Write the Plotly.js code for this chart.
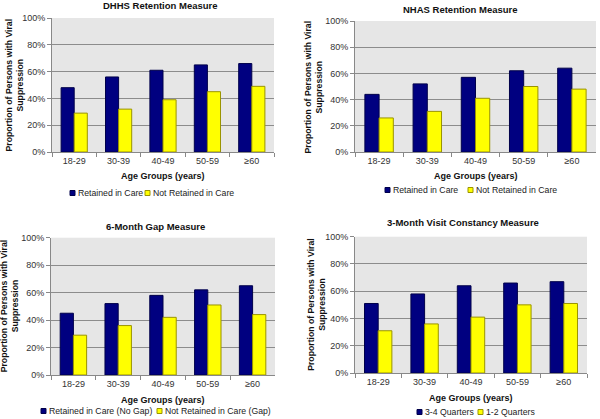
<!DOCTYPE html>
<html>
<head>
<meta charset="utf-8">
<script src="https://cdn.plot.ly/plotly-3.0.1.min.js"></script>
<style>html,body{margin:0;padding:0;background:#fff;}#chart{width:600px;height:419px;}</style>
</head>
<body>
<div id="chart"></div>
<script>
// ---- data ----
const ageGroups = ["18-29", "30-39", "40-49", "50-59", "≥60"];
const yTickVals = [0, 20, 40, 60, 80, 100];
const yTickText = ["0%", "20%", "40%", "60%", "80%", "100%"];

const panelTitles = ["DHHS Retention Measure", "NHAS Retention Measure", "6-Month Gap Measure", "3-Month Visit Constancy Measure"];
const seriesNames = [
  ["Retained in Care", "Not Retained in Care"],
  ["Retained in Care", "Not Retained in Care"],
  ["Retained in Care (No Gap)", "Not Retained in Care (Gap)"],
  ["3-4 Quarters", "1-2 Quarters"]
];
const dhhsRetained    = [48, 56, 61, 65, 66];
const dhhsNotRetained = [29, 32, 39, 45, 49];
const nhasRetained    = [44, 52, 57, 62, 64];
const nhasNotRetained = [26, 31, 41, 50, 48];
const gapNoGap        = [45, 52, 58, 62, 65];
const gapGap          = [29, 36, 42, 51, 44];
const visit34         = [51, 58, 64, 66, 67];
const visit12         = [31, 36, 41, 50, 51];
const panelValues = [
  [dhhsRetained, dhhsNotRetained],
  [nhasRetained, nhasNotRetained],
  [gapNoGap, gapGap],
  [visit34, visit12]
];
const xTitle = "Age Groups (years)";
const yTitle = "Proportion of Persons with Viral<br>Suppression";

// ---- layout geometry (pixels) ----
const W = 600, H = 419;
const panels = [
  {x0: 52,  x1: 274, yTop: 18,    yBot: 152, titleX: 160, titleY: 6,   xtY: 176, legY: 193, yLabX: 13.5, legX: [70, 145]},
  {x0: 355, x1: 596, yTop: 21,    yBot: 152, titleX: 460, titleY: 9,   xtY: 176, legY: 190, yLabX: 313,  legX: [385, 468]},
  {x0: 51,  x1: 275, yTop: 237.7, yBot: 375, titleX: 155, titleY: 226, xtY: 400, legY: 411, yLabX: 9,    legX: [41, 157]},
  {x0: 355, x1: 587, yTop: 236.7, yBot: 373, titleX: 463, titleY: 223, xtY: 398, legY: 412, yLabX: 317,  legX: [417, 478]}
];
const px = x => x / W;
const py = y => 1 - y / H;

const colors = ["#000080", "#FFFF00"];
const lines = ["#00004a", "#9a9400"];
const FONT = "Liberation Sans, Arial, sans-serif";

const traces = [];
const layout = {
  width: W, height: H,
  margin: {l: 0, r: 0, t: 0, b: 0},
  paper_bgcolor: "#ffffff",
  plot_bgcolor: "#e6e6e6",
  showlegend: false,
  barmode: "group",
  bargap: 0.41,
  bargroupgap: 0,
  font: {family: FONT, size: 9, color: "#333"},
  annotations: [],
  shapes: []
};

panels.forEach((p, i) => {
  const n = i === 0 ? "" : String(i + 1);
  for (let s = 0; s < 2; s++) {
    traces.push({
      type: "bar",
      x: ageGroups,
      y: panelValues[i][s],
      name: seriesNames[i][s],
      xaxis: "x" + n, yaxis: "y" + n,
      marker: {color: colors[s], line: {color: lines[s], width: 1}},
      hoverinfo: "x+y+name"
    });
    // compact Excel-style legend entry
    const lx = p.legX[s];
    layout.shapes.push({
      type: "rect", xref: "paper", yref: "paper",
      x0: px(lx), x1: px(lx + 5), y0: py(p.legY + 2.5), y1: py(p.legY - 2.5),
      fillcolor: colors[s], line: {color: lines[s], width: 1}
    });
    layout.annotations.push({
      text: seriesNames[i][s],
      x: px(lx + 5.5), y: py(p.legY), xref: "paper", yref: "paper",
      xanchor: "left", yanchor: "middle", showarrow: false,
      font: {family: FONT, size: 8.7, color: "#222"}
    });
  }
  layout["xaxis" + n] = {
    domain: [px(p.x0), px(p.x1)],
    anchor: "y" + n,
    type: "category",
    tickson: "boundaries",
    ticks: "outside", ticklen: 4, tickcolor: "#888",
    showline: true, linecolor: "#888", linewidth: 1,
    showgrid: false,
    tickfont: {family: FONT, size: 9, color: "#333"},
    fixedrange: true
  };
  layout["yaxis" + n] = {
    domain: [py(p.yBot), py(p.yTop)],
    anchor: "x" + n,
    range: [0, 100],
    tickvals: yTickVals, ticktext: yTickText,
    ticks: "outside", ticklen: 4, tickcolor: "#888",
    showline: true, linecolor: "#888", linewidth: 1,
    showgrid: true, gridcolor: "#8c8c8c", gridwidth: 1,
    zeroline: false,
    tickfont: {family: FONT, size: 9, color: "#333"},
    fixedrange: true
  };
  layout.annotations.push({
    text: "<b>" + panelTitles[i] + "</b>",
    x: px(p.titleX), y: py(p.titleY), xref: "paper", yref: "paper",
    xanchor: "center", yanchor: "middle", showarrow: false,
    font: {family: FONT, size: 9.5, color: "#111"}
  });
  layout.annotations.push({
    text: "<b>" + xTitle + "</b>",
    x: px((p.x0 + p.x1) / 2), y: py(p.xtY), xref: "paper", yref: "paper",
    xanchor: "center", yanchor: "middle", showarrow: false,
    font: {family: FONT, size: 9, color: "#111"}
  });
  layout.annotations.push({
    text: "<b>" + yTitle + "</b>",
    x: px(p.yLabX), y: py((p.yTop + p.yBot) / 2), xref: "paper", yref: "paper",
    xanchor: "center", yanchor: "middle", showarrow: false, textangle: -90,
    font: {family: FONT, size: 8.7, color: "#111"}
  });
});

Plotly.newPlot("chart", traces, layout, {displayModeBar: false, staticPlot: true});
</script>
</body>
</html>
